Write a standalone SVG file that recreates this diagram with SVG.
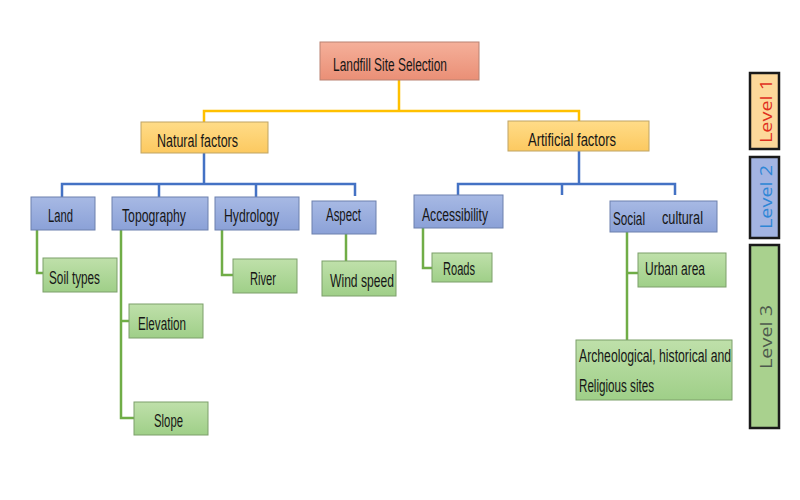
<svg xmlns="http://www.w3.org/2000/svg" width="800" height="500" viewBox="0 0 800 500">
<defs>
<linearGradient id="gT" x1="0" y1="0" x2="0" y2="1"><stop offset="0" stop-color="#f5b09a"/><stop offset="1" stop-color="#ea8f76"/></linearGradient>
<linearGradient id="gY" x1="0" y1="0" x2="0" y2="1"><stop offset="0" stop-color="#ffdc88"/><stop offset="1" stop-color="#fcc960"/></linearGradient>
<linearGradient id="gB" x1="0" y1="0" x2="0" y2="1"><stop offset="0" stop-color="#a7b9e4"/><stop offset="1" stop-color="#8ba1d7"/></linearGradient>
<linearGradient id="gG" x1="0" y1="0" x2="0" y2="1"><stop offset="0" stop-color="#bfe0aa"/><stop offset="1" stop-color="#9fcf88"/></linearGradient>
</defs>
<style>
.t{fill:url(#gT);stroke:#b98272;stroke-width:1}
.y{fill:url(#gY);stroke:#bfa465;stroke-width:1}
.b{fill:url(#gB);stroke:#6d80ad;stroke-width:1}
.g{fill:url(#gG);stroke:#7c9f6a;stroke-width:1}
text{font-family:"Liberation Sans Narrow","Liberation Sans",Arial,sans-serif;font-size:17.5px;fill:#161616}
.cy{fill:none;stroke:#ffc000;stroke-width:2.5}
.cb{fill:none;stroke:#4472c4;stroke-width:2.5}
.cg{fill:none;stroke:#70ad47;stroke-width:2.5}
.lv{stroke:#1a1a1a;stroke-width:2.5}
.lt{font-family:"Open Sans","DejaVu Sans",sans-serif;font-size:16px;text-anchor:middle;dominant-baseline:central}
</style>
<rect width="800" height="500" fill="#ffffff"/>

<g id="connectors">
<path class="cy" d="M399,80 V111 M204,122 V111 H579 V121"/>
<path class="cb" d="M204,153 V184 M62,197 V184 H355 V196 M159,184 V197 M256,184 V197"/>
<path class="cb" d="M579,151 V184 M458,195 V184 H675 V195 M562,184 V195"/>
<path class="cg" d="M37,230 V273 H43"/>
<path class="cg" d="M121,230 V418 H134 M121,321 H129"/>
<path class="cg" d="M222,230 V275 H233"/>
<path class="cg" d="M346,234 V261"/>
<path class="cg" d="M423,228 V268 H432"/>
<path class="cg" d="M627,232 V340 M627,273 H638"/>
</g>

<g id="n-root"><rect class="t" x="320" y="42" width="159" height="38"/><text x="333" y="71" textLength="114" lengthAdjust="spacingAndGlyphs">Landfill Site Selection</text></g>

<g id="n-natural"><rect class="y" x="141" y="122" width="127" height="31"/><text x="157" y="147" textLength="81" lengthAdjust="spacingAndGlyphs">Natural factors</text></g>
<g id="n-artificial"><rect class="y" x="508" y="121" width="141" height="30"/><text x="528" y="146" textLength="88" lengthAdjust="spacingAndGlyphs">Artificial  factors</text></g>

<g id="n-land"><rect class="b" x="31" y="197" width="64" height="33"/><text x="48" y="222" textLength="25" lengthAdjust="spacingAndGlyphs">Land</text></g>
<g id="n-topography"><rect class="b" x="112" y="197" width="96" height="33"/><text x="122" y="222" textLength="64" lengthAdjust="spacingAndGlyphs">Topography</text></g>
<g id="n-hydrology"><rect class="b" x="215" y="197" width="84" height="33"/><text x="224" y="222" textLength="55" lengthAdjust="spacingAndGlyphs">Hydrology</text></g>
<g id="n-aspect"><rect class="b" x="312" y="201" width="64" height="33"/><text x="326" y="221" textLength="35" lengthAdjust="spacingAndGlyphs">Aspect</text></g>
<g id="n-accessibility"><rect class="b" x="414" y="195" width="89" height="33"/><text x="422" y="221" textLength="66" lengthAdjust="spacingAndGlyphs">Accessibility</text></g>
<g id="n-social"><rect class="b" x="610" y="201" width="107" height="31"/><text x="613" y="225" textLength="32" lengthAdjust="spacingAndGlyphs">Social</text><text x="662" y="224" textLength="41" lengthAdjust="spacingAndGlyphs">cultural</text></g>

<g id="n-soil"><rect class="g" x="43" y="258" width="74" height="34"/><text x="49" y="284" textLength="51" lengthAdjust="spacingAndGlyphs">Soil types</text></g>
<g id="n-elevation"><rect class="g" x="129" y="304" width="74" height="34"/><text x="138" y="330" textLength="48" lengthAdjust="spacingAndGlyphs">Elevation</text></g>
<g id="n-slope"><rect class="g" x="134" y="402" width="74" height="33"/><text x="154" y="427" textLength="29" lengthAdjust="spacingAndGlyphs">Slope</text></g>
<g id="n-river"><rect class="g" x="233" y="259" width="64" height="34"/><text x="250" y="285" textLength="26" lengthAdjust="spacingAndGlyphs">River</text></g>
<g id="n-wind"><rect class="g" x="322" y="261" width="74" height="35"/><text x="330" y="287" textLength="64" lengthAdjust="spacingAndGlyphs">Wind speed</text></g>
<g id="n-roads"><rect class="g" x="432" y="253" width="60" height="29"/><text x="443" y="275" textLength="32" lengthAdjust="spacingAndGlyphs">Roads</text></g>
<g id="n-urban"><rect class="g" x="638" y="253" width="88" height="34"/><text x="645" y="275" textLength="60" lengthAdjust="spacingAndGlyphs">Urban area</text></g>
<g id="n-archeo"><rect class="g" x="576" y="340" width="156" height="60"/><text x="579" y="362" textLength="152" lengthAdjust="spacingAndGlyphs">Archeological, historical and</text><text x="579" y="392" textLength="75" lengthAdjust="spacingAndGlyphs">Religious sites</text></g>

<g id="level1"><rect class="lv" x="750" y="73" width="29" height="76" fill="#fdd89a"/><text class="lt" transform="translate(766,111) rotate(-90)" style="fill:#e0301e" textLength="64" lengthAdjust="spacingAndGlyphs">Level 1</text></g>
<g id="level2"><rect class="lv" x="750" y="157" width="29" height="81" fill="#a3b4e2"/><text class="lt" transform="translate(766,197) rotate(-90)" style="fill:#2e86d6" textLength="64" lengthAdjust="spacingAndGlyphs">Level 2</text></g>
<g id="level3"><rect class="lv" x="750" y="245" width="29" height="183" fill="#a9d18e"/><text class="lt" transform="translate(766,337) rotate(-90)" style="fill:#4d5a4d" textLength="64" lengthAdjust="spacingAndGlyphs">Level 3</text></g>
</svg>
